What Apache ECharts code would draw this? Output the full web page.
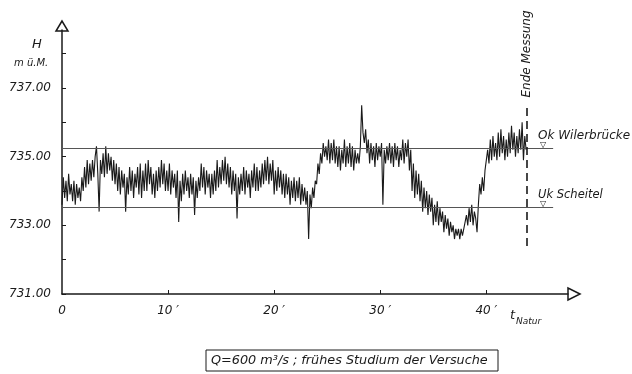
<!DOCTYPE html>
<html>
<head>
<meta charset="utf-8">
<script src="https://cdn.jsdelivr.net/npm/echarts@6/dist/echarts.min.js"></script>
<style>
  html, body { margin: 0; padding: 0; background: #fff; }
  #main { width: 632px; height: 374px; }
</style>
</head>
<body>
<div id="main"></div>
<script>
var chartDom = document.getElementById('main');
var myChart = echarts.init(chartDom);

// water level H (m ü.M.), one reading every eighth of a minute
var STEP = 0.125;
var level = [
  733.6, 734.4, 733.8, 734.3, 733.7, 734.5, 733.9, 734.2,
  733.7, 734.3, 733.6, 734.2, 733.8, 734.1, 733.7, 734.4,
  734.0, 734.7, 734.1, 734.9, 734.2, 734.8, 734.3, 734.9,
  734.4, 735.0, 735.3, 734.5, 733.4, 734.9, 734.5, 735.1,
  734.4, 735.3, 734.5, 735.1, 734.6, 735.0, 734.3, 734.9,
  734.2, 734.8, 734.0, 734.7, 733.9, 734.6, 734.1, 734.5,
  733.4, 734.4, 733.9, 734.7, 734.0, 734.6, 733.8, 734.5,
  734.1, 734.7, 733.9, 734.8, 733.8, 734.6, 734.0, 734.8,
  734.0, 734.9, 734.2, 734.7, 733.9, 734.5, 733.8, 734.6,
  734.0, 734.7, 734.1, 734.9, 734.2, 734.8, 734.0, 734.6,
  734.0, 734.8, 733.9, 734.6, 734.1, 734.5, 733.8, 734.6,
  733.1, 734.3, 733.7, 734.5, 733.9, 734.6, 734.0, 734.4,
  733.8, 734.5, 733.9, 734.4, 733.3, 734.3, 733.8, 734.4,
  734.0, 734.8, 734.1, 734.7, 733.9, 734.6, 734.1, 734.5,
  733.8, 734.5, 733.9, 734.6, 734.0, 734.9, 734.1, 734.7,
  734.2, 734.9, 734.3, 735.0, 734.2, 734.8, 734.1, 734.7,
  733.9, 734.6, 734.0, 734.5, 733.2, 734.4, 733.9, 734.5,
  734.0, 734.7, 733.9, 734.6, 734.1, 734.5, 733.8, 734.6,
  734.1, 734.8, 734.0, 734.7, 734.0, 734.6, 734.1, 734.8,
  734.2, 734.9, 734.3, 735.0, 734.2, 734.8, 734.3, 734.9,
  733.9, 734.6, 734.0, 734.7, 734.1, 734.6, 733.9, 734.5,
  733.8, 734.5, 733.9, 734.4, 733.6, 734.3, 733.8, 734.4,
  733.7, 734.3, 733.8, 734.4, 733.6, 734.2, 733.7, 734.1,
  733.6, 734.0, 732.6, 733.9, 733.5, 734.1, 733.8, 734.3,
  734.2, 734.8, 734.5, 735.1, 734.8, 735.4, 735.0, 735.3,
  734.9, 735.5, 734.8, 735.4, 734.9, 735.5, 734.8, 735.3,
  734.7, 735.3, 734.6, 735.2, 734.8, 735.5, 734.7, 735.3,
  734.8, 735.4, 734.7, 735.3, 734.6, 735.2, 734.8, 735.1,
  734.8, 735.3, 736.5, 735.7, 735.4, 735.8, 735.1, 735.5,
  734.8, 735.4, 734.9, 735.3, 734.7, 735.4, 734.9, 735.3,
  735.0, 735.4, 733.6, 735.2, 734.8, 735.3, 734.9, 735.4,
  734.8, 735.3, 734.7, 735.4, 734.9, 735.3, 734.7, 735.2,
  734.9, 735.5, 734.8, 735.4, 735.0, 735.5, 734.6, 735.2,
  734.0, 734.8, 733.8, 734.6, 733.9, 734.5, 733.7, 734.3,
  733.4, 734.1, 733.5, 734.0, 733.3, 733.9, 733.4, 733.8,
  733.0, 733.6, 733.1, 733.7, 733.0, 733.5, 733.1, 733.4,
  732.8, 733.3, 732.9, 733.2, 732.7, 733.1, 732.8, 733.0,
  732.6, 732.9, 732.7, 732.9, 732.6, 732.9, 732.7, 732.9,
  732.9, 733.3, 733.0, 733.5, 733.1, 733.6, 733.0, 733.4,
  733.2, 732.8, 733.6, 734.2, 733.9, 734.4, 734.0, 734.6,
  734.6, 735.2, 734.8, 735.5, 734.9, 735.6, 735.0, 735.4,
  734.9, 735.7, 735.0, 735.8, 735.1, 735.6, 734.9, 735.5,
  735.0, 735.7, 735.1, 735.9, 735.2, 735.7, 735.0, 735.6,
  735.1, 735.8, 735.2, 736.0, 734.9, 735.6, 735.2
];

var yTicks = [731, 732, 733, 734, 735, 736, 737, 738];
var yLabels = [731, 733, 735, 737];
var xTicks = [10, 20, 30, 40];
var xLabels = [0, 10, 20, 30, 40];

var okWilerbruecke = 735.25;
var ukScheitel = 733.53;
var endeMessung = 43.8;

var series = level.map(function (v, i) { return [i * STEP, v]; });

var fontFam = '"DejaVu Sans", "Liberation Sans", sans-serif';
var ink = '#1a1a1a';

var option = {
  backgroundColor: '#fff',
  animation: false,
  grid: { left: 62, right: 64, top: 30, bottom: 80 },
  xAxis: {
    type: 'value',
    min: 0,
    max: 47.7,
    axisLine: { lineStyle: { color: ink, width: 1.5 } },
    axisTick: { inside: true, length: 4, customValues: xTicks, lineStyle: { color: ink } },
    axisLabel: {
      customValues: xLabels,
      margin: 11,
      fontFamily: fontFam, fontStyle: 'italic', fontSize: 12, color: ink,
      formatter: function (v) { return v === 0 ? '0' : v + ' \u2032'; }
    },
    splitLine: { show: false }
  },
  yAxis: {
    type: 'value',
    min: 731,
    max: 738.69,
    axisLine: { show: true, lineStyle: { color: ink, width: 1.5 } },
    axisTick: { show: true, inside: true, length: 4, customValues: yTicks, lineStyle: { color: ink } },
    axisLabel: {
      customValues: yLabels,
      margin: 11,
      fontFamily: fontFam, fontStyle: 'italic', fontSize: 12, color: ink,
      formatter: function (v) { return v.toFixed(2); }
    },
    splitLine: { show: false }
  },
  series: [{
    type: 'line',
    data: series,
    showSymbol: false,
    lineStyle: { color: ink, width: 1.1 },
    markLine: {
      silent: true,
      symbol: 'none',
      label: { show: false },
      data: [
        [{ coord: [0, okWilerbruecke], lineStyle: { color: '#555', width: 1, type: 'solid' } },
         { coord: [46.3, okWilerbruecke] }],
        [{ coord: [0, ukScheitel], lineStyle: { color: '#555', width: 1, type: 'solid' } },
         { coord: [46.3, ukScheitel] }],
        [{ coord: [endeMessung, 732.4], lineStyle: { color: ink, width: 1.6, type: [8, 5] } },
         { coord: [endeMessung, 736.5] }]
      ]
    }
  }],
  graphic: [
    // hollow arrow heads
    { type: 'polygon', shape: { points: [[62, 21], [56, 31], [68, 31]] },
      style: { fill: '#fff', stroke: ink, lineWidth: 1.5 } },
    { type: 'polygon', shape: { points: [[580, 294], [568, 288], [568, 300]] },
      style: { fill: '#fff', stroke: ink, lineWidth: 1.5 } },
    { type: 'text', left: 32, top: 38,
      style: { text: 'H', font: 'italic 13px ' + fontFam, fill: ink } },
    { type: 'text', left: 14, top: 58,
      style: { text: 'm ü.M.', font: 'italic 10px ' + fontFam, fill: ink } },
    { type: 'text', left: 510, top: 309,
      style: {
        text: '{a|t}{b|Natur}',
        rich: {
          a: { font: 'italic 13px ' + fontFam, fill: ink, verticalAlign: 'top' },
          b: { font: 'italic 9px ' + fontFam, fill: ink, padding: [8, 0, 0, 1] }
        }
      } },
    { type: 'text', left: 538, top: 130,
      style: { text: 'Ok Wilerbrücke', font: 'italic 12px ' + fontFam, fill: ink } },
    { type: 'text', left: 540, top: 141,
      style: { text: '\u25BD', font: '8px "DejaVu Sans"', fill: ink } },
    { type: 'text', left: 538, top: 189,
      style: { text: 'Uk Scheitel', font: 'italic 11.5px ' + fontFam, fill: ink } },
    { type: 'text', left: 540, top: 200,
      style: { text: '\u25BD', font: '8px "DejaVu Sans"', fill: ink } },
    { type: 'text', x: 527, y: 54, rotation: Math.PI / 2,
      style: { text: 'Ende Messung', font: 'italic 12px ' + fontFam, fill: ink,
               align: 'center', verticalAlign: 'middle' } },
    { type: 'rect', shape: { x: 206, y: 350, width: 292, height: 21 },
      style: { fill: 'none', stroke: ink, lineWidth: 1 } },
    { type: 'text', left: 211, top: 354,
      style: { text: 'Q=600 m\u00B3/s ; frühes Studium der Versuche',
               font: 'italic 12.8px ' + fontFam, fill: ink } }
  ]
};

myChart.setOption(option);
</script>
</body>
</html>
